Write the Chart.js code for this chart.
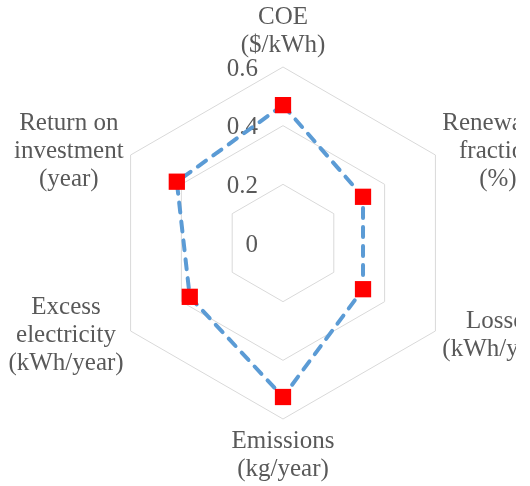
<!DOCTYPE html>
<html>
<head>
<meta charset="utf-8">
<script src="https://cdn.jsdelivr.net/npm/chart.js@4/dist/chart.umd.min.js"></script>
<style>
  html, body { margin: 0; padding: 0; background: #fff; }
  #clip { width: 516px; height: 486px; overflow: hidden; }
  #wrap { width: 530px; height: 486px; }
</style>
</head>
<body>
<div id="clip"><div id="wrap"><canvas id="radarChart"></canvas></div></div>
<script>
// axis labels, one array of lines per spoke (clockwise from the top)
const axisLabels = [
    ['COE', '($/kWh)'],
    ['Renewable', 'fraction', '(%)'],
    ['Losses', '(kWh/year)'],
    ['Emissions', '(kg/year)'],
    ['Excess', 'electricity', '(kWh/year)'],
    ['Return on', 'investment', '(year)']
];
const values = [0.47, 0.315, 0.315, 0.525, 0.367, 0.418];
const tickMin = 0;
const tickMax = 0.6;
const tickStep = 0.2;

const textColor = '#595959';
const fontFamily = '"Liberation Serif", "Times New Roman", serif';
const fontSize = 25;
const lineGap = 28;

// Excel style labels: centred lines, block placed just outside each spoke
const labelPlugin = {
    id: 'excelLabels',
    beforeDatasetsDraw(chart) {
        const scale = chart.scales.r;
        const ctx = chart.ctx;
        ctx.save();
        ctx.fillStyle = textColor;
        ctx.font = fontSize + 'px ' + fontFamily;
        ctx.textAlign = 'right';
        ctx.textBaseline = 'middle';
        scale.ticks.forEach(t => {
            const d = scale.getDistanceFromCenterForValue(t.value);
            ctx.fillText(t.label, scale.xCenter - 25, scale.yCenter - d + 2);
        });
        ctx.restore();
    },
    afterDraw(chart) {
        const scale = chart.scales.r;
        const ctx = chart.ctx;
        ctx.save();
        ctx.fillStyle = textColor;
        ctx.font = fontSize + 'px ' + fontFamily;
        ctx.textAlign = 'center';
        ctx.textBaseline = 'middle';
        axisLabels.forEach((lines, i) => {
            const p = scale.getPointPosition(i, scale.drawingArea + 8);
            const w = Math.max(...lines.map(l => ctx.measureText(l).width));
            const h = lines.length * lineGap;
            let cx = p.x, top;
            const dx = p.x - scale.xCenter;
            if (Math.abs(dx) < 1) {
                // top or bottom spoke
                top = p.y < scale.yCenter ? p.y - h : p.y;
            } else {
                cx = dx > 0 ? p.x + w / 2 : p.x - w / 2;
                top = p.y - h / 2;
            }
            lines.forEach((l, k) => {
                ctx.fillText(l, cx, top + lineGap / 2 + k * lineGap);
            });
        });
        ctx.restore();
    }
};

const ctx = document.getElementById('radarChart').getContext('2d');
new Chart(ctx, {
    type: 'radar',
    data: {
        labels: axisLabels,
        datasets: [{
            data: values,
            borderColor: '#5b9bd5',
            borderWidth: 4,
            borderDash: [10, 9],
            borderCapStyle: 'round',
            fill: false,
            tension: 0,
            pointStyle: 'rect',
            pointRadius: 11.5,
            pointHoverRadius: 11.5,
            pointBackgroundColor: '#ff0000',
            pointBorderWidth: 0
        }]
    },
    options: {
        responsive: true,
        maintainAspectRatio: false,
        animation: false,
        layout: {
            padding: { left: 37, right: 0, top: 67, bottom: 67 }
        },
        plugins: {
            legend: { display: false },
            tooltip: { enabled: false }
        },
        scales: {
            r: {
                min: tickMin,
                max: tickMax,
                ticks: { stepSize: tickStep, display: false },
                angleLines: { display: false },
                grid: { color: '#d9d9d9', lineWidth: 1 },
                pointLabels: { display: false }
            }
        }
    },
    plugins: [labelPlugin]
});
</script>
</body>
</html>
